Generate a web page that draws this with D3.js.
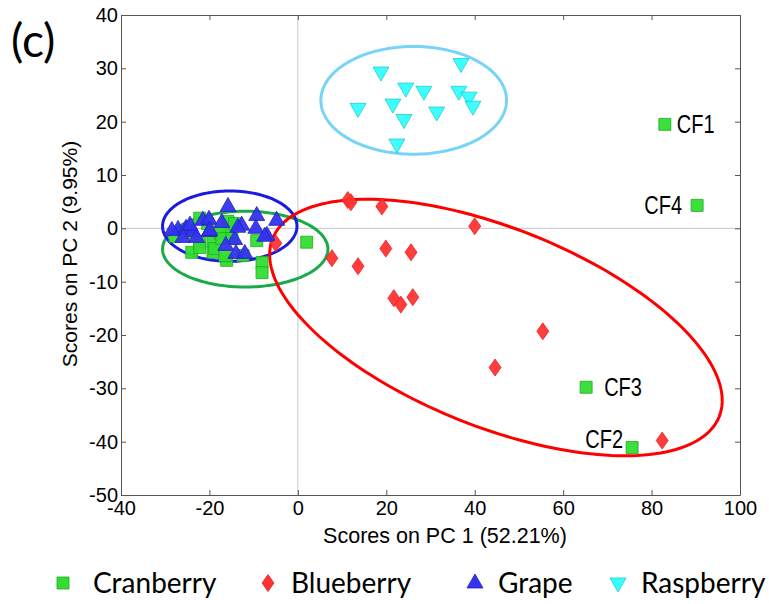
<!DOCTYPE html>
<html>
<head>
<meta charset="utf-8">
<script src="https://cdn.jsdelivr.net/npm/d3@7"></script>
<style>
body { margin: 0; background: #fff; }
svg { display: block; }
</style>
</head>
<body>
<svg id="chart" width="769" height="604"></svg>
<script>
// PCA scores
var seriesNames = ["Cranberry", "Blueberry", "Grape", "Raspberry"];
var xTicks = [-40, -20, 0, 20, 40, 60, 80, 100];
var yTicks = [40, 30, 20, 10, 0, -10, -20, -30, -40, -50];

var cranberry = [
    [2.0, -2.6], [-8.1, -6.4], [-8.1, -8.3], [-9.3, -2.3], [-24.0, -4.5],
    [-16.1, -6.0], [-19.2, -4.5], [-19.2, -2.3], [-15.8, 1.3], [-15.8, -0.8],
    [-22.2, 1.9], [-27.8, -1.5], [-22.2, -2.6], [-12.4, -5.1], [-17.6, -0.9],
    [-20.4, 0.9], [-18.8, -3.8], [-22.2, -3.6], [-17.2, -1.9], [-14.9, -1.9],
    [-14.3, 0.9], [-16.5, -5.1], [-25.5, -0.8],
    [83.0, 19.5], [90.3, 4.3], [65.2, -29.8], [75.6, -41.1]
];
var cfLabels = [
    ["CF1", 83.0, 19.5], ["CF4", 90.3, 4.3], ["CF3", 65.2, -29.8], ["CF2", 75.6, -41.1]
];
var blueberry = [
    [11.3, 5.3], [12.0, 4.9], [19.0, 4.1], [40.0, 0.4], [7.7, -5.6],
    [19.9, -3.8], [25.6, -4.5], [13.6, -7.1], [21.7, -13.1], [23.3, -14.3],
    [26.0, -12.9], [-5.0, -2.8], [55.4, -19.3], [44.6, -26.1], [82.4, -39.8]
];
var grape = [
    [-15.8, 4.1], [-9.3, 2.4], [-4.8, 1.5], [-21.5, 1.5], [-20.1, 1.7],
    [-17.2, 1.1], [-12.7, 0.6], [-9.5, 0.0], [-27.1, -0.2], [-25.3, 0.0],
    [-23.8, -0.6], [-20.1, -0.6], [-26.0, -1.7], [-22.9, -1.7], [-14.3, -2.1],
    [-16.3, -3.2], [-7.0, -1.3], [-14.0, -4.7], [-12.0, -4.7], [-28.5, -0.4],
    [-24.4, 0.6], [-13.6, 0.2], [-7.5, -1.5], [-19.9, -0.4]
];
var raspberry = [
    [18.8, 29.3], [36.9, 30.9], [24.4, 26.3], [28.5, 25.7], [36.4, 25.7],
    [38.7, 24.6], [39.6, 22.9], [13.6, 22.5], [21.5, 23.3], [31.4, 21.8],
    [24.0, 20.4], [22.4, 15.8]
];
// confidence ellipses: centre, semi-axis vector u, semi-axis vector v (data units)
var ellipses = [
    {name: "Raspberry", c: [26.2, 24.0], u: [21.0, 0], v: [0, 10.1]},
    {name: "Cranberry", c: [-11.9, -3.9], u: [18.7, 0], v: [0, 7.1]},
    {name: "Grape", c: [-15.4, 0.4], u: [15.2, 0], v: [0, 6.6]},
    {name: "Blueberry", c: [44.8, -18.6], u: [50.5, -16.7], v: [-8.3, -17.3]}
];

var fill = {Cranberry: "#33dd33", Blueberry: "#ff3333", Grape: "#3333ee", Raspberry: "#33ffff"};
var edge = {Cranberry: "#22aa22", Blueberry: "#ee2222", Grape: "#2222bb", Raspberry: "#22cccc"};
var ring = {Cranberry: "#1aaa4a", Blueberry: "#ff0000", Grape: "#1a1ae0", Raspberry: "#77d4f7"};

var svg = d3.select("#chart");
// plot box in pixels ("top" would clash with window.top)
var pL = 121, pR = 740, pT = 15, pB = 495;

var x = d3.scaleLinear().domain([-40, 100]).range([pL, pR]);
var y = d3.scaleLinear().domain([-50, 40]).range([pB, pT]);

// custom marker shapes
var diamond = {draw: function (ctx, s) {
    var w = 6, h = 8.5;
    ctx.moveTo(0, -h); ctx.lineTo(w, 0); ctx.lineTo(0, h); ctx.lineTo(-w, 0); ctx.closePath();
}};
var triUp = {draw: function (ctx, s) {
    ctx.moveTo(0, -9); ctx.lineTo(8, 5); ctx.lineTo(-8, 5); ctx.closePath();
}};
var triDown = {draw: function (ctx, s) {
    ctx.moveTo(0, 9); ctx.lineTo(8, -5); ctx.lineTo(-8, -5); ctx.closePath();
}};
var square = {draw: function (ctx, s) {
    ctx.rect(-6, -6, 12, 12);
}};
var shape = {Cranberry: square, Blueberry: diamond, Grape: triUp, Raspberry: triDown};

// zero lines
svg.append("line").attr("x1", x(0)).attr("x2", x(0)).attr("y1", pT).attr("y2", pB)
    .attr("stroke", "#c8c8c8").attr("stroke-width", 1);
svg.append("line").attr("x1", pL).attr("x2", pR).attr("y1", y(0)).attr("y2", y(0))
    .attr("stroke", "#c8c8c8").attr("stroke-width", 1);

// axes (ticks pointing inward), plain hyphen minus like the original
var fmt = function (d) { return String(d); };
var axisCol = "#555";
var gB = svg.append("g").attr("transform", "translate(0," + pB + ")")
    .call(d3.axisBottom(x).tickValues(xTicks).tickSizeInner(-5).tickSizeOuter(0).tickPadding(4).tickFormat(fmt));
var gT = svg.append("g").attr("transform", "translate(0," + pT + ")")
    .call(d3.axisTop(x).tickValues(xTicks).tickSizeInner(-5).tickSizeOuter(0).tickFormat(""));
var gL = svg.append("g").attr("transform", "translate(" + pL + ",0)")
    .call(d3.axisLeft(y).tickValues(yTicks).tickSizeInner(-5).tickSizeOuter(0).tickPadding(3).tickFormat(fmt));
var gR = svg.append("g").attr("transform", "translate(" + pR + ",0)")
    .call(d3.axisRight(y).tickValues(yTicks).tickSizeInner(-5).tickSizeOuter(0).tickFormat(""));
[gB, gT, gL, gR].forEach(function (g) {
    g.selectAll("path,line").attr("stroke", axisCol);
    g.selectAll("text").attr("fill", "#000")
        .style("font-family", "'Liberation Sans', Arial, sans-serif").style("font-size", "20px");
});
gB.selectAll("text").attr("dy", "0.8em");

// ellipses
var ellLine = d3.line().curve(d3.curveLinearClosed);
ellipses.forEach(function (e) {
    var pts = d3.range(0, 2 * Math.PI, Math.PI / 90).map(function (t) {
        return [x(e.c[0] + Math.cos(t) * e.u[0] + Math.sin(t) * e.v[0]),
                y(e.c[1] + Math.cos(t) * e.u[1] + Math.sin(t) * e.v[1])];
    });
    svg.append("path").attr("d", ellLine(pts)).attr("fill", "none")
        .attr("stroke", ring[e.name]).attr("stroke-width", 3);
});

// points
var series = [
    ["Raspberry", raspberry], ["Cranberry", cranberry], ["Blueberry", blueberry], ["Grape", grape]
];
series.forEach(function (s) {
    var name = s[0];
    svg.append("g").selectAll("path").data(s[1]).join("path")
        .attr("transform", function (d) { return "translate(" + x(d[0]) + "," + y(d[1]) + ")"; })
        .attr("d", d3.symbol().type(shape[name]))
        .attr("fill", fill[name]).attr("stroke", edge[name]).attr("stroke-width", 0.8)
        .attr("fill-opacity", 0.95);
});

// CF labels
var labelPos = {
    CF1: {dx: 12, dy: 9, anchor: "start"},
    CF4: {dx: -15, dy: 9, anchor: "end"},
    CF3: {dx: 18, dy: 9, anchor: "start"},
    CF2: {dx: -9, dy: 0, anchor: "end"}
};
svg.append("g").selectAll("text").data(cfLabels).join("text")
    .attr("transform", function (d) {
        var p = labelPos[d[0]];
        return "translate(" + (x(d[1]) + p.dx) + "," + (y(d[2]) + p.dy) + ") scale(0.8,1)";
    })
    .attr("text-anchor", function (d) { return labelPos[d[0]].anchor; })
    .style("font-family", "'Liberation Sans', Arial, sans-serif").style("font-size", "25px")
    .text(function (d) { return d[0]; });

// axis titles
svg.append("text").attr("x", 445).attr("y", 543).attr("text-anchor", "middle")
    .style("font-family", "'Liberation Sans', Arial, sans-serif").style("font-size", "21.5px")
    .text("Scores on PC 1 (52.21%)");
svg.append("text").attr("transform", "translate(77,254) rotate(-90)").attr("text-anchor", "middle")
    .style("font-family", "'Liberation Sans', Arial, sans-serif").style("font-size", "21px")
    .text("Scores on PC 2 (9.95%)");

// panel letter
svg.append("text").attr("x", 11).attr("y", 57)
    .style("font-family", "Lato, 'Open Sans', sans-serif").style("font-size", "46px")
    .text("(c)");

// legend
var legendX = [63, 268, 475, 618];
var leg = svg.append("g").selectAll("g").data(seriesNames).join("g")
    .attr("transform", function (d, i) { return "translate(" + legendX[i] + ",583)"; });
leg.append("path").attr("d", function (d) { return d3.symbol().type(shape[d])(); })
    .attr("fill", function (d) { return fill[d]; })
    .attr("stroke", function (d) { return edge[d]; }).attr("stroke-width", 0.8);
leg.append("text").attr("x", function (d, i) { return i === 0 ? 30 : 23; }).attr("y", 10)
    .style("font-family", "Lato, 'Open Sans', sans-serif").style("font-size", "28px")
    .text(function (d) { return d; });
</script>
</body>
</html>
